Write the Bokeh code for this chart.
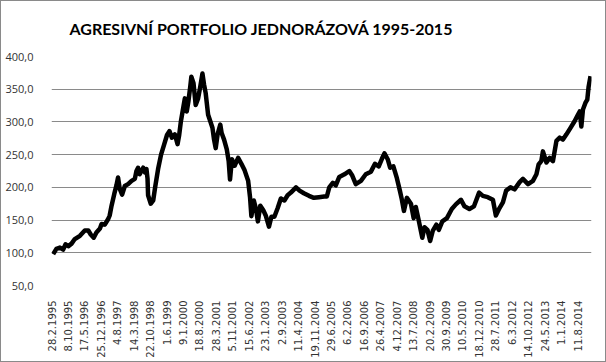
from datetime import date
from bokeh.plotting import figure
from bokeh.models import Range1d, FixedTicker
from bokeh.embed import file_html
from bokeh.resources import INLINE

title_text = "AGRESIVNÍ PORTFOLIO  JEDNORÁZOVÁ 1995-2015"

tick_labels = ["28.2.1995", "8.10.1995", "17.5.1996", "25.12.1996", "4.8.1997", "14.3.1998",
               "22.10.1998", "1.6.1999", "9.1.2000", "18.8.2000", "28.3.2001", "5.11.2001",
               "15.6.2002", "23.1.2003", "2.9.2003", "11.4.2004", "19.11.2004", "29.6.2005",
               "6.2.2006", "16.9.2006", "26.4.2007", "4.12.2007", "13.7.2008", "20.2.2009",
               "30.9.2009", "10.5.2010", "18.12.2010", "28.7.2011", "6.3.2012", "14.10.2012",
               "24.5.2013", "1.1.2014", "11.8.2014"]

y_ticks = [50, 100, 150, 200, 250, 300, 350, 400]
y_tick_labels = ["50,0", "100,0", "150,0", "200,0", "250,0", "300,0", "350,0", "400,0"]

# decimal years and portfolio values
years = [1995.22, 1995.34, 1995.47, 1995.59, 1995.68, 1995.78, 1995.90, 1996.02, 1996.21, 1996.39,
         1996.52, 1996.61, 1996.72, 1996.82, 1996.95, 1997.01, 1997.13, 1997.26, 1997.31, 1997.38,
         1997.48, 1997.56, 1997.62, 1997.68, 1997.77, 1997.87, 1997.99, 1998.12, 1998.24, 1998.30,
         1998.36, 1998.42, 1998.55, 1998.61, 1998.67, 1998.71, 1998.73, 1998.83, 1998.92, 1998.99,
         1999.10, 1999.21, 1999.32, 1999.43, 1999.52, 1999.61, 1999.72, 1999.82, 1999.88, 1999.94,
         2000.04, 2000.09, 2000.16, 2000.22, 2000.29, 2000.33, 2000.41, 2000.49, 2000.58, 2000.66,
         2000.74, 2000.80, 2000.86, 2000.95, 2001.03, 2001.11, 2001.17, 2001.23, 2001.30, 2001.40,
         2001.45, 2001.54, 2001.64, 2001.71, 2001.76, 2001.83, 2001.93, 2002.06, 2002.18, 2002.30,
         2002.43, 2002.50, 2002.55, 2002.64, 2002.72, 2002.79, 2002.88, 2002.99, 2003.08, 2003.20,
         2003.29, 2003.40, 2003.52, 2003.64, 2003.77, 2003.89, 2004.01, 2004.20, 2004.33, 2004.49,
         2004.68, 2004.86, 2005.05, 2005.24, 2005.34, 2005.43, 2005.56, 2005.67, 2005.80, 2005.99,
         2006.17, 2006.28, 2006.41, 2006.60, 2006.78, 2006.97, 2007.12, 2007.26, 2007.38, 2007.47,
         2007.59, 2007.68, 2007.80, 2007.93, 2008.04, 2008.11, 2008.19, 2008.30, 2008.45, 2008.55,
         2008.63, 2008.72, 2008.82, 2008.87, 2008.95, 2009.06, 2009.16, 2009.26, 2009.39, 2009.48,
         2009.61, 2009.78, 2009.96, 2010.11, 2010.30, 2010.43, 2010.61, 2010.78, 2010.97, 2011.11,
         2011.29, 2011.48, 2011.59, 2011.72, 2011.85, 2011.97, 2012.13, 2012.28, 2012.47, 2012.59,
         2012.78, 2012.96, 2013.09, 2013.17, 2013.27, 2013.33, 2013.46, 2013.58, 2013.70, 2013.83,
         2013.95, 2014.07, 2014.20, 2014.35, 2014.50, 2014.60, 2014.69, 2014.75, 2014.81, 2014.90,
         2014.97, 2015.02, 2015.09]
values = [98, 106, 108, 105, 113, 110, 114, 121, 126, 134,
          134, 128, 123, 131, 137, 144, 143, 152, 157, 172,
          190, 203, 215, 198, 189, 202, 205, 210, 213, 225,
          230, 220, 230, 223, 228, 213, 188, 175, 180, 200,
          228, 250, 265, 280, 286, 276, 281, 266, 280, 300,
          324, 336, 316, 331, 354, 369, 359, 326, 336, 354,
          374, 357, 344, 311, 301, 291, 273, 260, 281, 296,
          283, 273, 258, 240, 212, 243, 233, 245, 236, 226,
          210, 185, 156, 180, 167, 148, 172, 165, 157, 140,
          155, 155, 168, 183, 180, 188, 192, 200, 195, 191,
          187, 184, 185, 186, 186, 200, 207, 203, 216, 220,
          225, 218, 205, 210, 220, 224, 236, 232, 244, 252,
          243, 230, 232, 214, 195, 182, 164, 184, 175, 153,
          170, 153, 133, 123, 139, 135, 118, 134, 143, 135,
          148, 153, 167, 174, 181, 171, 167, 171, 192, 187,
          185, 181, 157, 168, 177, 195, 200, 197, 208, 213,
          205, 210, 220, 235, 240, 255, 238, 245, 240, 271,
          276, 273, 281, 291, 301, 309, 316, 293, 319, 329,
          334, 354, 370]

origin = date(1995, 1, 1)


def label_to_days(s):
    d, m, y = (int(v) for v in s.split("."))
    return (date(y, m, d) - origin).days


tick_days = [label_to_days(s) for s in tick_labels]
x_days = [(yr - 1995.0) * 365.25 for yr in years]

x_start = tick_days[0]
x_end = tick_days[0] + (tick_days[-1] - tick_days[0]) * 540.0 / 526.0

p = figure(width=606, height=362, output_backend="svg", toolbar_location=None,
           x_range=Range1d(x_start, x_end), y_range=Range1d(50, 400),
           min_border_left=50, min_border_right=16, min_border_top=53, min_border_bottom=78)
p.styles = {"border": "1px solid #8a8a8a", "box-sizing": "border-box"}

p.title.text = title_text
p.title.text_font = "Lato"
p.title.text_font_style = "bold"
p.title.text_font_size = "16px"
p.title.text_color = "#000000"
p.title.align = "left"
p.title.offset = 18
p.title.standoff = 34
p.title.vertical_align = "top"

p.line(x_days, values, line_color="black", line_width=4.5, line_join="round")

p.outline_line_color = None
p.background_fill_color = "white"
p.border_fill_color = "white"

p.xgrid.grid_line_color = None
p.ygrid.grid_line_color = "#8a8a8a"
p.ygrid.grid_line_width = 1

p.yaxis.ticker = FixedTicker(ticks=y_ticks)
p.yaxis.major_label_overrides = dict(zip(y_ticks, y_tick_labels))
p.yaxis.axis_line_color = None
p.yaxis.major_tick_line_color = None
p.yaxis.minor_tick_line_color = None
p.yaxis.major_label_text_font = "Open Sans"
p.yaxis.major_label_text_font_size = "11px"
p.yaxis.major_label_text_color = "#333333"
p.yaxis.major_label_standoff = 12

p.xaxis.ticker = FixedTicker(ticks=tick_days)
p.xaxis.major_label_overrides = dict(zip(tick_days, tick_labels))
p.xaxis.axis_line_color = None
p.xaxis.major_tick_line_color = None
p.xaxis.minor_tick_line_color = None
p.xaxis.major_label_orientation = 1.5707963267948966
p.xaxis.major_label_text_font = "DejaVu Sans"
p.xaxis.major_label_text_font_size = "10px"
p.xaxis.major_label_text_color = "#333333"
p.xaxis.major_label_standoff = 9

open("out.html", "w").write(file_html(p, INLINE))
